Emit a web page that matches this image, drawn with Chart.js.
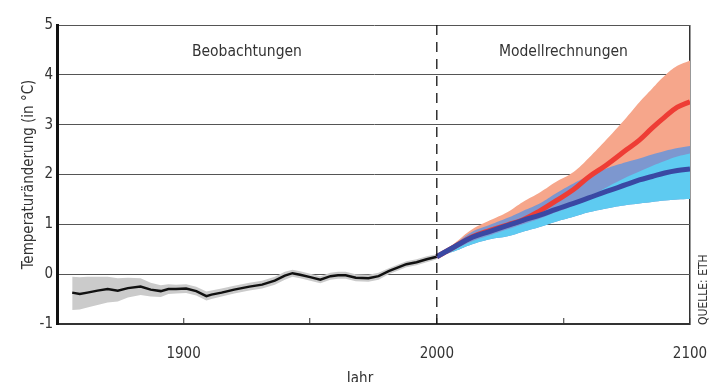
<!DOCTYPE html>
<html>
<head>
<meta charset="utf-8">
<script src="https://cdn.jsdelivr.net/npm/chart.js@4.4.1/dist/chart.umd.min.js"></script>
<style>
  html, body { margin: 0; padding: 0; background: #fff; }
  #grafico { display: block; }
</style>
</head>
<body>
<canvas id="grafico" width="710" height="382"></canvas>
<script>
// Beobachtungen (1856-2000)
const jahreBeob = [1856, 1859, 1862, 1866, 1870, 1874, 1878, 1883, 1887, 1891, 1894, 1897, 1901, 1905, 1909, 1911, 1915, 1920, 1926, 1931, 1936, 1940, 1943, 1946, 1950, 1954, 1958, 1961, 1964, 1968, 1973, 1977, 1981, 1985, 1988, 1992, 1996, 2000];
const beobMittel = [-0.37, -0.40, -0.37, -0.33, -0.30, -0.33, -0.28, -0.25, -0.31, -0.34, -0.30, -0.30, -0.29, -0.34, -0.44, -0.41, -0.37, -0.31, -0.25, -0.21, -0.13, -0.03, 0.02, -0.01, -0.06, -0.11, -0.04, -0.02, -0.02, -0.07, -0.08, -0.04, 0.06, 0.14, 0.20, 0.24, 0.30, 0.35];
const beobOben = [-0.05, -0.06, -0.05, -0.05, -0.05, -0.08, -0.07, -0.08, -0.17, -0.22, -0.20, -0.21, -0.20, -0.25, -0.35, -0.33, -0.29, -0.23, -0.17, -0.13, -0.05, 0.05, 0.09, 0.06, 0.01, -0.04, 0.03, 0.05, 0.05, 0.00, -0.01, 0.03, 0.12, 0.20, 0.26, 0.30, 0.36, 0.40];
const beobUnten = [-0.72, -0.71, -0.67, -0.62, -0.57, -0.55, -0.47, -0.42, -0.45, -0.46, -0.40, -0.39, -0.38, -0.43, -0.53, -0.50, -0.45, -0.39, -0.33, -0.29, -0.21, -0.11, -0.05, -0.08, -0.13, -0.18, -0.11, -0.09, -0.09, -0.14, -0.15, -0.11, 0.00, 0.08, 0.14, 0.18, 0.24, 0.30];

// Modellrechnungen (2000-2100)
const jahreModell = [2000, 2007, 2014, 2021, 2028, 2034, 2041, 2047, 2054, 2060, 2067, 2075, 2080, 2085, 2090, 2095, 2100];
const rotMittel = [0.35, 0.55, 0.75, 0.88, 0.99, 1.09, 1.28, 1.47, 1.70, 1.95, 2.19, 2.50, 2.69, 2.93, 3.15, 3.35, 3.46];
const rotOben = [0.35, 0.62, 0.90, 1.08, 1.25, 1.45, 1.65, 1.85, 2.05, 2.33, 2.70, 3.15, 3.45, 3.72, 3.98, 4.18, 4.29];
const blauMittel = [0.35, 0.55, 0.74, 0.86, 0.98, 1.08, 1.19, 1.30, 1.42, 1.53, 1.66, 1.80, 1.89, 1.96, 2.03, 2.08, 2.11];
const blauOben = [0.35, 0.60, 0.85, 0.99, 1.13, 1.27, 1.43, 1.62, 1.82, 1.97, 2.12, 2.25, 2.32, 2.40, 2.47, 2.53, 2.57];
const hellblauOben = [0.35, 0.50, 0.66, 0.78, 0.90, 1.00, 1.12, 1.24, 1.38, 1.55, 1.74, 1.95, 2.06, 2.17, 2.27, 2.36, 2.42];
const hellblauUnten = [0.35, 0.46, 0.60, 0.70, 0.76, 0.85, 0.95, 1.05, 1.15, 1.24, 1.32, 1.39, 1.42, 1.45, 1.48, 1.50, 1.51];

// Achsen
const xTicks = [1900, 2000, 2100];
const yTicks = [-1, 0, 1, 2, 3, 4, 5];
const trennJahr = 2000;

const schrift = "'Liberation Sans Narrow', 'DejaVu Sans Condensed', 'Open Sans', sans-serif";

function punkte(jahre, werte) {
  return jahre.map((j, i) => ({ x: j, y: werte[i] }));
}

// Texte im Diagramm
const texte = {
  id: "texte",
  afterDraw(chart) {
    const { ctx, chartArea, scales } = chart;
    const x = scales.x;
    ctx.save();
    ctx.fillStyle = "#333";
    ctx.font = "15.5px " + schrift;
    ctx.textAlign = "center";
    ctx.textBaseline = "middle";
    ctx.fillText("Beobachtungen", (x.getPixelForValue(1850) + x.getPixelForValue(trennJahr)) / 2, chartArea.top + 27);
    ctx.fillText("Modellrechnungen", (x.getPixelForValue(trennJahr) + x.getPixelForValue(2100)) / 2, chartArea.top + 27);

    ctx.font = "15px " + schrift;
    ctx.textBaseline = "top";
    ctx.fillText("Jahr", 360, 372);

    ctx.translate(704, chartArea.bottom + 1);
    ctx.rotate(-Math.PI / 2);
    ctx.font = "12px " + schrift;
    ctx.textAlign = "left";
    ctx.textBaseline = "middle";
    ctx.fillText("QUELLE: ETH", 0, 0);
    ctx.restore();
  }
};

const ctx = document.getElementById("grafico");

new Chart(ctx, {
  type: "line",
  data: {
    datasets: [
      { data: punkte(jahreBeob, beobOben), borderWidth: 0, pointRadius: 0, backgroundColor: "#cbcbcb", fill: 1, order: 20 },
      { data: punkte(jahreBeob, beobUnten), borderWidth: 0, pointRadius: 0, fill: false, order: 20 },
      { data: punkte(jahreBeob, beobMittel), borderColor: "#111", borderWidth: 2.5, pointRadius: 0, fill: false, order: 15 },
      { data: punkte(jahreModell, rotOben), borderWidth: 0, pointRadius: 0, backgroundColor: "#f6a68b", fill: 8, tension: 0.4, order: 14 },
      { data: punkte(jahreModell, blauOben), borderWidth: 0, pointRadius: 0, backgroundColor: "#7d97cf", fill: 6, tension: 0.4, order: 13 },
      { data: punkte(jahreModell, hellblauOben), borderWidth: 0, pointRadius: 0, backgroundColor: "#5ecbf1", fill: 6, tension: 0.4, order: 12 },
      { data: punkte(jahreModell, hellblauUnten), borderWidth: 0, pointRadius: 0, fill: false, tension: 0.4, order: 12 },
      { data: punkte(jahreModell, rotMittel), borderColor: "#ee3d35", borderWidth: 5, pointRadius: 0, fill: false, tension: 0.4, order: 3 },
      { data: punkte(jahreModell, blauMittel), borderColor: "#3a48a3", borderWidth: 5, pointRadius: 0, fill: false, tension: 0.4, order: 2 },
      { data: [{ x: trennJahr, y: yTicks[0] }, { x: trennJahr, y: yTicks[yTicks.length - 1] }], borderColor: "#111", borderWidth: 1.3, borderDash: [10, 7], pointRadius: 0, fill: false, order: 1 }
    ]
  },
  options: {
    responsive: false,
    animation: false,
    layout: { padding: { top: 25, right: 20, left: 0, bottom: 0 } },
    plugins: { legend: { display: false }, tooltip: { enabled: false } },
    scales: {
      x: {
        type: "linear",
        min: 1850,
        max: 2100,
        afterFit(s) { s.height = 58; s.paddingLeft = 0; s.paddingRight = 0; },
        ticks: {
          stepSize: 50,
          padding: 27,
          color: "#333",
          font: { family: schrift, size: 15 },
          maxRotation: 0,
          callback: v => (xTicks.includes(v) ? String(v) : "")
        },
        grid: {
          drawOnChartArea: true,
          color: c => (c.tick && c.tick.value === 2100 ? "#333" : "rgba(0,0,0,0)"),
          lineWidth: 1.5,
          tickColor: "#333",
          tickLength: -6,
          tickWidth: 1
        },
        border: { color: "#333", width: 2 }
      },
      y: {
        min: -1,
        max: 5,
        afterFit(s) { s.width = 57; s.paddingTop = 0; s.paddingBottom = 0; },
        ticks: {
          stepSize: 1,
          padding: 4,
          color: "#333",
          font: { family: schrift, size: 15 }
        },
        grid: { color: "#555", lineWidth: 1, drawTicks: false },
        border: { color: "#111", width: 3 },
        title: {
          display: true,
          text: "Temperaturänderung (in °C)",
          color: "#333",
          font: { family: schrift, size: 15 },
          padding: { top: 20, bottom: 0 }
        }
      }
    }
  },
  plugins: [texte]
});
</script>
</body>
</html>
